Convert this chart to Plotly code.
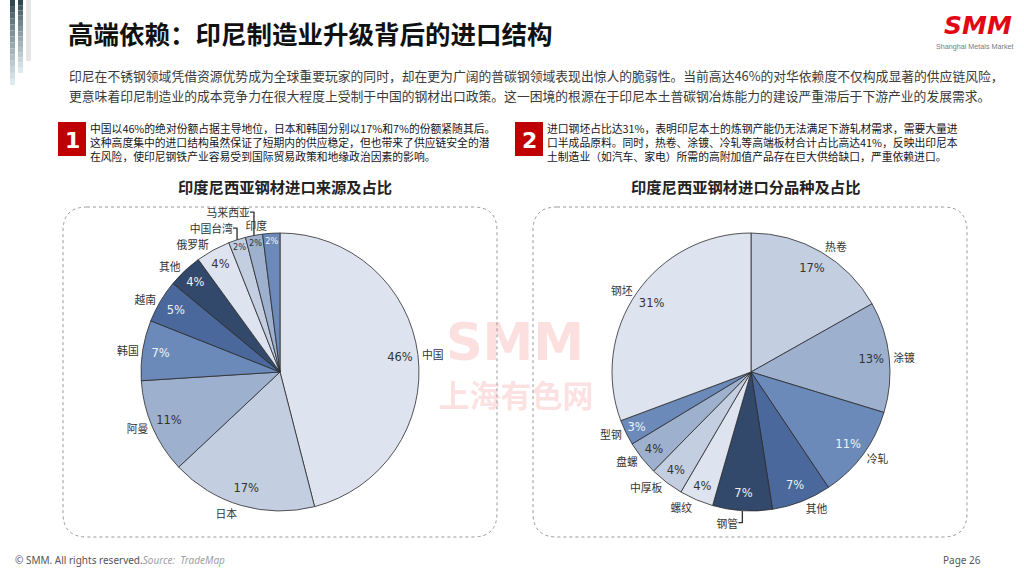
import plotly.graph_objects as go

# ---------------- data ----------------
src_labels = ["中国", "日本", "阿曼", "韩国", "越南", "其他", "俄罗斯", "中国台湾", "马来西亚", "印度"]
src_values = [46, 17, 11, 7, 5, 4, 4, 2, 2, 2]

prod_labels = ["热卷", "涂镀", "冷轧", "其他", "钢管", "螺纹", "中厚板", "盘螺", "型钢", "钢坯"]
prod_values = [17, 13, 11, 7, 7, 4, 4, 4, 3, 31]

title = "高端依赖：印尼制造业升级背后的进口结构"
intro_lines = [
    "印尼在不锈钢领域凭借资源优势成为全球重要玩家的同时，却在更为广阔的普碳钢领域表现出惊人的脆弱性。当前高达46%的对华依赖度不仅构成显著的供应链风险，",
    "更意味着印尼制造业的成本竞争力在很大程度上受制于中国的钢材出口政策。这一困境的根源在于印尼本土普碳钢冶炼能力的建设严重滞后于下游产业的发展需求。",
]
note1_lines = [
    "中国以46%的绝对份额占据主导地位，日本和韩国分别以17%和7%的份额紧随其后。",
    "这种高度集中的进口结构虽然保证了短期内的供应稳定，但也带来了供应链安全的潜",
    "在风险，使印尼钢铁产业容易受到国际贸易政策和地缘政治因素的影响。",
]
note2_lines = [
    "进口钢坯占比达31%，表明印尼本土的炼钢产能仍无法满足下游轧材需求，需要大量进",
    "口半成品原料。同时，热卷、涂镀、冷轧等高端板材合计占比高达41%，反映出印尼本",
    "土制造业（如汽车、家电）所需的高附加值产品存在巨大供给缺口，严重依赖进口。",
]
chart1_title = "印度尼西亚钢材进口来源及占比"
chart2_title = "印度尼西亚钢材进口分品种及占比"

# ---------------- style ----------------
W, H = 1024, 576
C1, C2, C3, C4, C5, C6 = "#dde3ef", "#c4cee1", "#9db0ce", "#6b8aba", "#4a689b", "#33496b"
DARK, LIGHT = "#333333", "#eef2f8"
src_colors = [C1, C2, C3, C4, C5, C6, C1, C2, C3, C4]
src_txt = [DARK, DARK, DARK, LIGHT, LIGHT, LIGHT, DARK, DARK, DARK, LIGHT]
prod_colors = [C2, C3, C4, C5, C6, C1, C2, C3, C4, C1]
prod_txt = [DARK, DARK, LIGHT, LIGHT, LIGHT, DARK, DARK, DARK, LIGHT, DARK]
CJK = "Noto Sans CJK SC"
CLEAR = "rgba(0,0,0,0)"


def X(px):
    return px / W


def Y(py):
    return 1 - py / H


fig = go.Figure()

# watermark on the cartesian layer, which sits beneath the pies
fig.add_trace(go.Scatter(
    x=[515, 516], y=[347, 399], mode="text",
    text=["<b>SMM</b>", "<b>上海有色网</b>"],
    textfont=dict(family=["DejaVu Sans", CJK], size=[51, 31],
                  color="rgba(238,100,100,0.20)"),
    hoverinfo="skip", showlegend=False,
))


def add_pie(labels, values, colors, txtcolors, cx, cy, r, solo=()):
    dom = dict(x=[X(cx - r), X(cx + r)], y=[Y(cy + r), Y(cy - r)])
    n = len(values)
    common = dict(labels=labels, values=values, sort=False, direction="clockwise",
                  rotation=0, domain=dom, showlegend=False)
    name_font = dict(family=CJK, size=10.8, color="#333333")
    # coloured slices with outside category names
    fig.add_trace(go.Pie(
        **common,
        marker=dict(colors=colors, line=dict(color="#2b2b2b", width=0.8)),
        texttemplate="%{label}",
        textposition=["none" if i in solo else "outside" for i in range(n)],
        outsidetextfont=name_font, hoverinfo="label+value",
    ))
    # names of crowded slices in their own layer so they keep their natural spot
    if solo:
        fig.add_trace(go.Pie(
            **common,
            marker=dict(colors=[CLEAR] * n, line=dict(width=0)),
            texttemplate="%{label}",
            textposition=["outside" if i in solo else "none" for i in range(n)],
            outsidetextfont=name_font, hoverinfo="skip",
        ))
    # transparent ring carrying the percentages near the rim
    fig.add_trace(go.Pie(
        **common, hole=0.74,
        marker=dict(colors=[CLEAR] * n, line=dict(width=0)),
        texttemplate="%{value}%", textposition="inside",
        insidetextorientation="horizontal",
        insidetextfont=dict(family="DejaVu Sans", size=11.5, color=txtcolors),
        hoverinfo="skip",
    ))


add_pie(src_labels, src_values, src_colors, src_txt, 280, 372, 139, solo=(len(src_values) - 1,))
add_pie(prod_labels, prod_values, prod_colors, prod_txt, 751, 372, 139)

shapes = []


def lerp(a, b, t):
    return "#%02x%02x%02x" % tuple(int(a[i] + (b[i] - a[i]) * t) for i in range(3))


# decorative bars top-left (gradient approximated by segments)
top_c, bot_c = (44, 72, 80), (220, 234, 238)
for (x0, x1, yb) in [(10, 15, 85), (18, 23, 73)]:
    n = 14
    for k in range(n):
        t = k / (n - 1)
        shapes.append(dict(type="rect", xref="paper", yref="paper",
                           x0=X(x0), x1=X(x1), y0=Y(yb * (k + 1) / n), y1=Y(yb * k / n),
                           fillcolor=lerp(top_c, bot_c, t ** 0.8), line=dict(width=0), layer="below"))
shapes.append(dict(type="rect", xref="paper", yref="paper", x0=X(26), x1=X(31), y0=Y(61), y1=Y(0),
                   fillcolor="#e6e6e6", line=dict(width=0), layer="below"))


def rounded_box(x0, y0, x1, y1, r):
    p = lambda x, y: f"{X(x):.5f},{Y(y):.5f}"
    return (f"M {p(x0 + r, y0)} L {p(x1 - r, y0)} Q {p(x1, y0)} {p(x1, y0 + r)} "
            f"L {p(x1, y1 - r)} Q {p(x1, y1)} {p(x1 - r, y1)} L {p(x0 + r, y1)} "
            f"Q {p(x0, y1)} {p(x0, y1 - r)} L {p(x0, y0 + r)} Q {p(x0, y0)} {p(x0 + r, y0)} Z")


for bx0, bx1 in [(63, 497), (533, 967)]:
    shapes.append(dict(type="path", xref="paper", yref="paper", path=rounded_box(bx0, 207, bx1, 537, 24),
                       line=dict(color="#9a9a9a", width=1, dash="dot"), fillcolor=CLEAR,
                       layer="below"))

# red number squares
for bx0 in [58, 515]:
    shapes.append(dict(type="rect", xref="paper", yref="paper", x0=X(bx0), x1=X(bx0 + 28),
                       y0=Y(156), y1=Y(122), fillcolor="#c00000", line=dict(width=0)))

ann = []


def txt(x, y, s, size, color="#333333", family=CJK, xanchor="left", bold=False, **kw):
    ann.append(dict(x=X(x), y=Y(y), xref="paper", yref="paper", text=(f"<b>{s}</b>" if bold else s),
                    showarrow=False, xanchor=xanchor, yanchor="middle",
                    font=dict(family=family, size=size, color=color), **kw))


txt(66, 33, title, 25.5, color="#111111", bold=True)
txt(67, 75, intro_lines[0], 12.8, color="#3a3a3a")
txt(67, 95, intro_lines[1], 12.8, color="#3a3a3a")

for i, s in enumerate(note1_lines):
    txt(88, 128 + 14 * i, s, 10.8, color="#14141c")
for i, s in enumerate(note2_lines):
    txt(545, 128 + 14 * i, s, 10.8, color="#14141c")
txt(72, 140, "1", 22, color="white", family="DejaVu Sans", xanchor="center", bold=True)
txt(529, 140, "2", 22, color="white", family="DejaVu Sans", xanchor="center", bold=True)

txt(285, 186, chart1_title, 15.3, color="#222222", xanchor="center", bold=True)
txt(745, 186, chart2_title, 15.3, color="#222222", xanchor="center", bold=True)

# logo
txt(978, 25, "<b><i>SMM</i></b>", 25, color="#e30613", family="DejaVu Sans", xanchor="center")
txt(975, 46, "Shanghai Metals Market", 7.2, color="#7a7a7a", family="Liberation Sans", xanchor="center")

# footer
txt(13, 560, "© SMM. All rights reserved.<i><span style='color:#a0a0a0'>Source:  TradeMap</span></i>",
    10, color="#555555", family="Noto Sans")
txt(983, 560, "Page 26", 10, color="#555555", family="Noto Sans", xanchor="right")

fig.update_layout(
    width=W, height=H, margin=dict(l=0, r=0, t=0, b=0),
    paper_bgcolor="white", plot_bgcolor=CLEAR,
    xaxis=dict(range=[0, W], visible=False, fixedrange=True, domain=[0, 1]),
    yaxis=dict(range=[H, 0], visible=False, fixedrange=True, domain=[0, 1]),
    shapes=shapes, annotations=ann, showlegend=False,
)

fig.write_html("out.html", config={"displayModeBar": False},
               post_script="document.body.style.margin='0';document.body.style.overflow='hidden';")
